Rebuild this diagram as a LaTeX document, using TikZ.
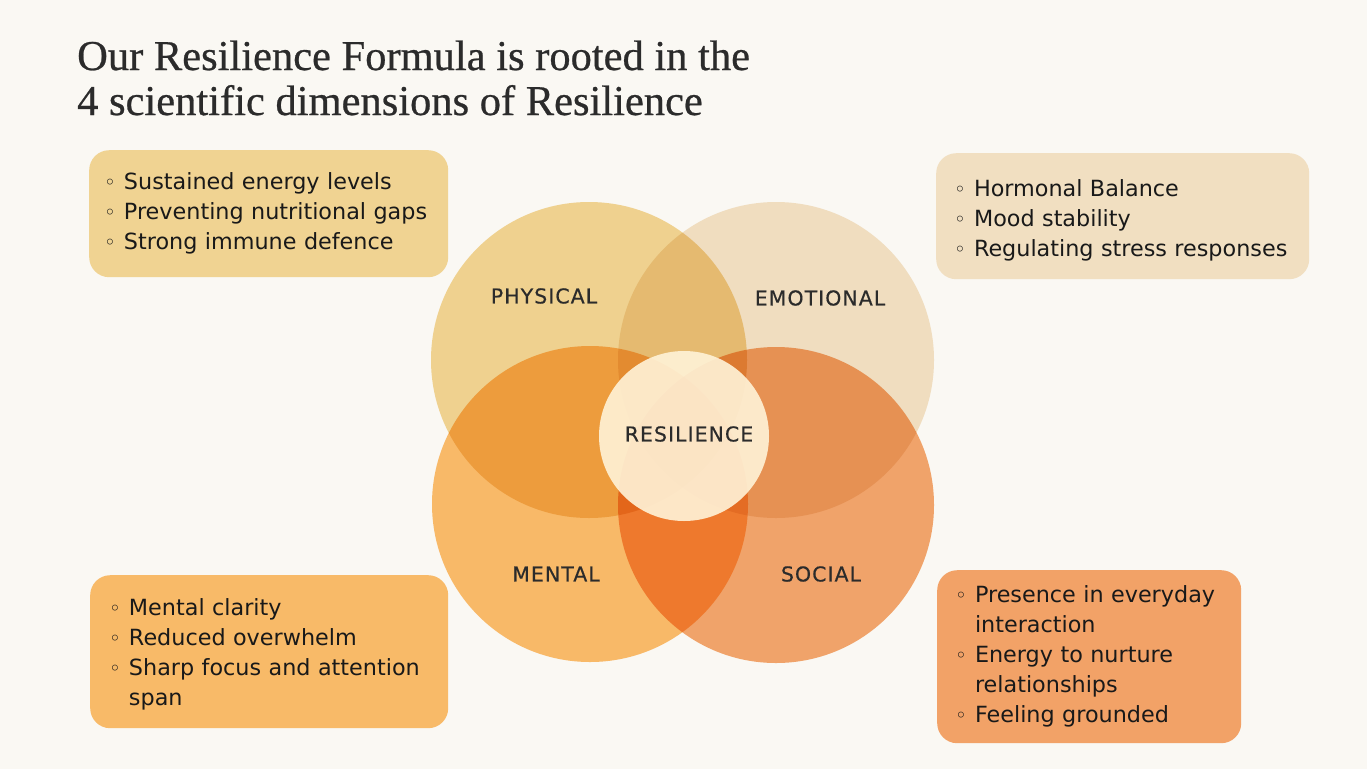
\documentclass[tikz,border=0pt]{standalone}
\usepackage{fontspec}
\setmainfont{DejaVu Sans}
\newfontfamily\titlefont[FakeBold=0.6]{Liberation Serif}
\newfontfamily\lblfont[LetterSpace=5, FakeBold=0.4]{DejaVu Sans}
\newfontfamily\symfont{DejaVu Sans}
\usetikzlibrary{positioning}

\definecolor{bgcream}{HTML}{FAF8F3}
\definecolor{inkdark}{HTML}{2B2B2B}
\definecolor{physcol}{HTML}{F4D797}
\definecolor{emocol}{HTML}{F5E4C9}
\definecolor{mentcol}{HTML}{FDBF6E}
\definecolor{soccol}{HTML}{F5A870}
\definecolor{rescol}{HTML}{FFF3D8}
\definecolor{physbox}{HTML}{F0D392}
\definecolor{emobox}{HTML}{F1DFC1}
\definecolor{mentbox}{HTML}{F8BA68}
\definecolor{socbox}{HTML}{F2A267}

\newcommand{\bul}{{\symfont\fontsize{20}{30}\selectfont\char"25E6}}
\newcommand{\blist}[1]{\begin{tabular}{@{}l@{\hspace{8pt}}l@{}}#1\end{tabular}}

\tikzset{
  ring/.style={circle, minimum size=316pt, inner sep=0pt},
  lbl/.style={font=\lblfont\fontsize{20.5}{24}\selectfont, text=inkdark},
  infobox/.style={rounded corners=20pt, inner xsep=18pt, anchor=north west,
    font=\fontsize{22.3}{30}\selectfont, text=black!90, align=left}
}

\begin{document}
\begin{tikzpicture}[x=1pt, y=-1pt]
\fill[bgcream] (0,0) rectangle (1367,769);
\useasboundingbox (0,0) rectangle (1367,769);

% Title
\node[anchor=base west, font=\titlefont\fontsize{42.5}{46}\selectfont, text=inkdark, inner sep=0pt] (title1) at (77,70) {Our Resilience Formula is rooted in the};
\node[anchor=base west, font=\titlefont\fontsize{42.5}{46}\selectfont, text=inkdark, inner sep=0pt] (title2) at (77,115) {4 scientific dimensions of Resilience};

% Circles
\begin{scope}[blend mode=multiply]
\node[ring, fill=physcol] (phys) at (589,360) {};
\node[ring, fill=emocol] (emo) at (776,360) {};
\node[ring, fill=mentcol] (ment) at (590,504) {};
\node[ring, fill=soccol] (soc) at (776,505) {};
\end{scope}
\node[circle, minimum size=170pt, fill=rescol, fill opacity=0.9, text opacity=1] (res) at (684,436) {};

% Labels
\node[lbl] (physlbl) at (544,296) {PHYSICAL};
\node[lbl] (emolbl) at (820,298) {EMOTIONAL};
\node[lbl] (mentlbl) at (556,574) {MENTAL};
\node[lbl] (soclbl) at (821,574) {SOCIAL};
\node[lbl] (reslbl) at (689,434) {RESILIENCE};

% Boxes
\node[infobox, fill=physbox, minimum width=359pt, minimum height=127pt, text width=329pt, inner xsep=15pt] (physinfo) at (89,150)
  {\blist{\bul & Sustained energy levels\\ \bul & Preventing nutritional gaps\\ \bul & Strong immune defence}};
\node[infobox, fill=emobox, minimum width=373pt, minimum height=126pt, text width=337pt] (emoinfo) at (936,153)
  {\vspace{-8pt}\blist{\bul & Hormonal Balance\\ \bul & Mood stability\\ \bul & Regulating stress responses}};
\node[infobox, fill=mentbox, minimum width=358pt, minimum height=153pt, text width=320pt, inner xsep=19pt] (mentinfo) at (90,575)
  {\vspace{-6pt}\blist{\bul & Mental clarity\\ \bul & Reduced overwhelm\\ \bul & Sharp focus and attention\\ & span}};
\node[infobox, fill=socbox, minimum width=304pt, minimum height=173pt, text width=268pt] (socinfo) at (937,570)
  {\blist{\bul & Presence in everyday\\ & interaction\\ \bul & Energy to nurture\\ & relationships\\ \bul & Feeling grounded}};
\end{tikzpicture}
\end{document}
